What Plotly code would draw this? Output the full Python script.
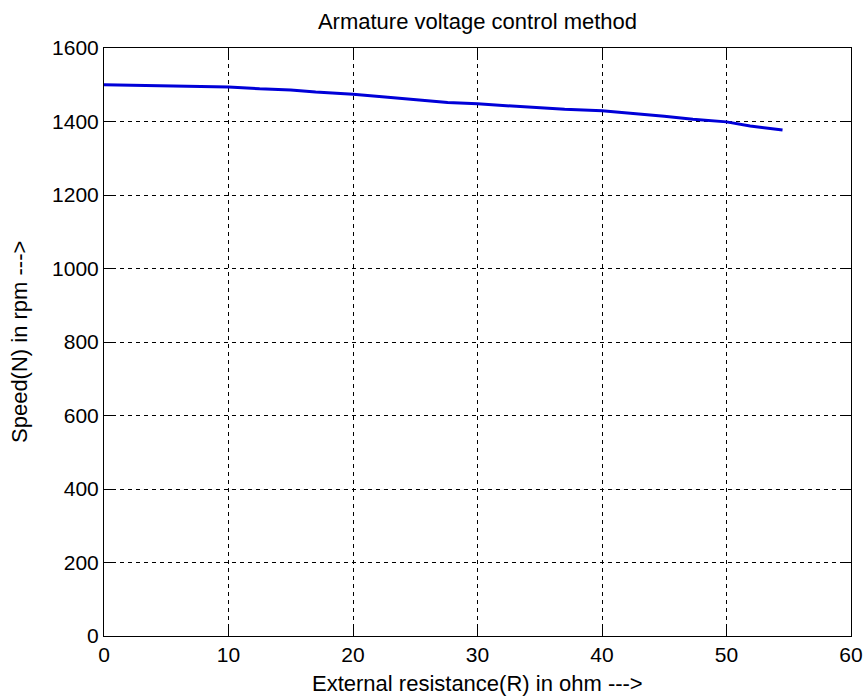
import plotly.graph_objects as go

resistance = [0, 6.3, 10, 12.5, 15, 17, 20, 22.8, 25, 27.6, 30, 32.2, 35, 37, 40, 43.5, 45, 47.3, 50, 51.9, 54.5]
speed = [1500, 1497, 1494, 1489, 1486, 1480, 1474, 1466, 1460, 1452, 1448, 1443, 1437, 1433, 1429, 1419, 1414, 1406, 1399, 1388, 1377]

x_ticks = [0, 10, 20, 30, 40, 50, 60]
y_ticks = [0, 200, 400, 600, 800, 1000, 1200, 1400, 1600]

title_text = "Armature voltage control method"
x_title = "External resistance(R) in ohm --->"
y_title = "Speed(N) in rpm --->"

FONT = "Liberation Sans, Arial, sans-serif"
W, H = 865, 700
L, R, T, B = 104, 14, 48, 64
PW = W - L - R
PH = H - T - B

fig = go.Figure()
fig.add_trace(go.Scatter(x=resistance, y=speed, mode="lines",
                         line=dict(color="#0000d8", width=3), showlegend=False))

axis_common = dict(
    showline=True, linecolor="black", linewidth=1, mirror="ticks",
    ticks="inside", ticklen=8, tickwidth=1, tickcolor="black",
    showgrid=True, gridcolor="black", gridwidth=1, griddash="4px,4px",
    zeroline=False, tickfont=dict(family=FONT, size=21, color="black"),
)

fig.update_xaxes(range=[0, 60], tickvals=x_ticks, ticktext=[str(v) for v in x_ticks],
                 ticklabelstandoff=0, **axis_common)
fig.update_yaxes(range=[0, 1600], tickvals=y_ticks, ticktext=[str(v) for v in y_ticks],
                 ticklabelstandoff=0, **axis_common)

fig.update_layout(
    width=W, height=H,
    margin=dict(l=L, r=R, t=T, b=B, pad=0, autoexpand=False),
    paper_bgcolor="white", plot_bgcolor="white",
    title=dict(text=title_text, x=(L + PW / 2) / W, xanchor="center",
               y=1 - 21 / H, yanchor="middle", yref="container",
               font=dict(family=FONT, size=22, color="black")),
    annotations=[
        dict(text=x_title, xref="paper", yref="paper", x=0.5, y=-(683 - (T + PH)) / PH,
             xanchor="center", yanchor="middle", showarrow=False,
             font=dict(family=FONT, size=22, color="black")),
        dict(text=y_title, xref="paper", yref="paper", x=-(L - 19) / PW, y=0.5,
             xanchor="center", yanchor="middle", showarrow=False, textangle=-90,
             font=dict(family=FONT, size=22, color="black")),
    ],
)

fig.write_html("out.html", config={"displayModeBar": False},
               post_script="document.body.style.margin='0px';document.body.style.overflow='hidden';")
